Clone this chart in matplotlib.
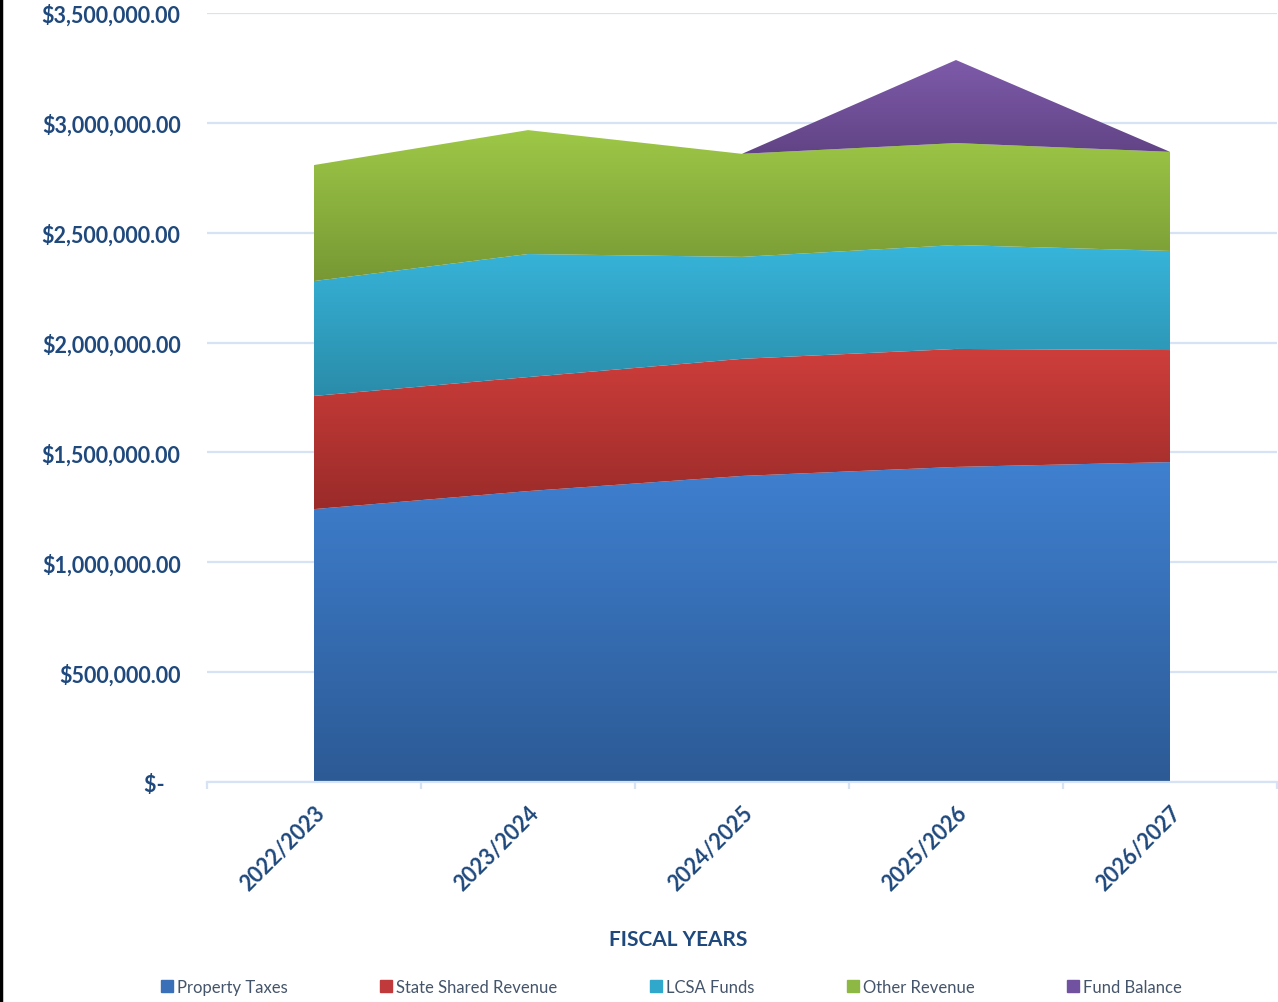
import matplotlib.pyplot as plt
import numpy as np
from matplotlib.colors import LinearSegmentedColormap
from matplotlib.lines import Line2D
from matplotlib.ticker import FuncFormatter, FixedLocator

# data
years = ["2022/2023", "2023/2024", "2024/2025", "2025/2026", "2026/2027"]
property_taxes = [1242000, 1324000, 1393000, 1434000, 1456000]
state_shared = [515000, 519000, 533000, 537000, 510000]
lcsa_funds = [523000, 560000, 464000, 473000, 451000]
other_revenue = [528000, 564000, 469000, 464000, 451000]
fund_balance = [0, 0, 0, 378000, 0]

series_names = ["Property Taxes", "State Shared Revenue", "LCSA Funds", "Other Revenue", "Fund Balance"]
# (top colour, bottom colour) for the vertical gradient
grads = [("#3F80D0", "#2C5A95"),
         ("#CE3E3B", "#9A2B29"),
         ("#37B5DB", "#2A8CA9"),
         ("#9EC847", "#779834"),
         ("#7E5BAA", "#5E4181")]
legend_cols = ["#3A70B8", "#C0393B", "#2FA8CC", "#8DB843", "#7052A0"]

text_blue = "#1F497D"
grid_col = "#D6E3F5"

plt.rcParams['font.family'] = ['Lato', 'DejaVu Sans']

fig = plt.figure(figsize=(12.78, 10.03), dpi=100)
ax = fig.add_axes([207 / 1278, 1 - 783 / 1003, 1070 / 1278, 769 / 1003])

x = np.arange(len(years))
stack = np.vstack([property_taxes, state_shared, lcsa_funds, other_revenue, fund_balance])
tops = np.cumsum(stack, axis=0)
bottoms = np.vstack([np.zeros(len(years)), tops[:-1]])

for i in range(len(series_names)):
    lo, hi = bottoms[i], tops[i]
    poly = ax.fill_between(x, lo, hi, color="none", lw=0, zorder=2)
    if np.all(hi - lo == 0):
        continue
    cmap = LinearSegmentedColormap.from_list("g%d" % i, [grads[i][1], grads[i][0]])
    grad = np.linspace(0, 1, 256).reshape(-1, 1)
    im = ax.imshow(grad, cmap=cmap, aspect="auto", origin="lower",
                   extent=[x[0], x[-1], lo.min(), hi.max()], zorder=2, interpolation="bilinear")
    im.set_clip_path(poly.get_paths()[0], transform=ax.transData)

ax.set_xlim(-0.5, 4.5)
ax.set_ylim(0, 3500000)

# y axis
ax.yaxis.set_major_locator(FixedLocator(np.arange(0, 3500001, 500000)))
def money(v, pos):
    if v == 0:
        return "$-   "
    return "${:,.2f}".format(v)
ax.yaxis.set_major_formatter(FuncFormatter(money))
ax.tick_params(axis="y", length=0, pad=19, labelsize=15.5, labelcolor=text_blue)
for lbl in ax.get_yticklabels():
    lbl.set_fontweight("bold")
ax.grid(axis="y", color=grid_col, lw=1.6, zorder=0)
ax.set_axisbelow(True)

# x axis
ax.set_xticks(x)
ax.set_xticklabels(years, rotation=45, ha="right", rotation_mode="anchor",
                   fontsize=15.5, fontweight="bold", color=text_blue)
ax.tick_params(axis="x", which="major", length=0, pad=14)
ax.set_xticks(np.arange(-0.5, 5, 1), minor=True)
ax.tick_params(axis="x", which="minor", length=5, width=1.6, color=grid_col)

for s in ["top", "right", "left"]:
    ax.spines[s].set_visible(False)
ax.spines["bottom"].set_color(grid_col)
ax.spines["bottom"].set_linewidth(1.6)

fig.text(678 / 1278, 1 - 940 / 1003, "FISCAL YEARS", ha="center", va="center",
         fontsize=15, fontweight="bold", color=text_blue)

handles = [Line2D([], [], marker="s", ls="", markersize=8, color=c) for c in legend_cols]
fig.legend(handles, series_names, loc="center", ncol=5, frameon=False,
           bbox_to_anchor=((162 + 1182) / 2 / 1278, 1 - 988 / 1003),
           fontsize=12, labelcolor="#44546A", columnspacing=5.6,
           handlelength=0.6, handletextpad=0.3)

# left border of the original chart frame
fig.add_artist(Line2D([0.001, 0.001], [0, 1], color="black", lw=2.5, transform=fig.transFigure))

plt.savefig("out.png", dpi=100)
plt.close()
